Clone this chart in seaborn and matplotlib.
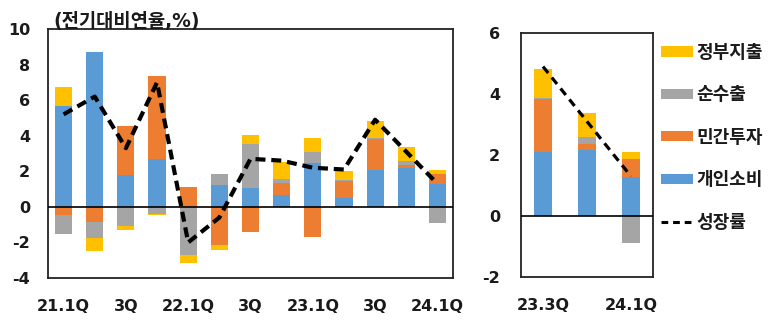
import numpy as np
import matplotlib
matplotlib.use("Agg")
import matplotlib.pyplot as plt
import seaborn as sns
from matplotlib.patches import Patch
from matplotlib.lines import Line2D

# Contributions to quarterly growth (annualised q/q, %p) by expenditure component
quarters = ["21.1Q", "21.2Q", "21.3Q", "21.4Q", "22.1Q", "22.2Q", "22.3Q",
            "22.4Q", "23.1Q", "23.2Q", "23.3Q", "23.4Q", "24.1Q"]
tick_labels = ["21.1Q", "3Q", "22.1Q", "3Q", "23.1Q", "3Q", "24.1Q"]

consumption = [5.69, 8.71, 1.81, 2.70, 0.00, 1.25, 1.07, 0.69, 2.47, 0.50, 2.10, 2.17, 1.27]
investment = [-0.47, -0.86, 2.76, 4.64, 1.10, -2.16, -1.43, 0.66, -1.69, 0.94, 1.73, 0.18, 0.60]
net_exports = [-1.05, -0.88, -1.05, -0.39, -2.68, 0.60, 2.49, 0.24, 0.60, 0.05, 0.03, 0.25, -0.90]
government = [1.05, -0.77, -0.26, -0.06, -0.47, -0.28, 0.50, 0.92, 0.81, 0.55, 0.96, 0.77, 0.23]
growth = [5.2, 6.2, 3.3, 7.0, -2.0, -0.6, 2.7, 2.6, 2.2, 2.1, 4.9, 3.1, 1.3]

# Zoomed panel: the three most recent quarters
recent_n = 3
recent_tick_labels = ["23.3Q", "", "24.1Q"]

layer_names = ["개인소비", "민간투자", "순수출", "정부지출"]
layer_colors = ["#5B9BD5", "#ED7D31", "#A5A5A5", "#FFC000"]
growth_name = "성장률"
unit_label = "(전기대비연율,%)"

sns.set_style("white")
plt.rcParams["font.family"] = ["DejaVu Sans", "Noto Sans CJK KR"]
plt.rcParams["font.weight"] = "bold"

TEXT = "#1a1a1a"

fig = plt.figure(figsize=(7.76, 3.21), dpi=100)
ax_l = fig.add_axes([48 / 776, 1 - 278 / 321, 405 / 776, 249 / 321])
ax_r = fig.add_axes([521 / 776, 1 - 277 / 321, 132 / 776, 244 / 321])


def draw_stack(ax, cats, layers, width):
    arr = np.array(layers, dtype=float)
    pos = np.cumsum(np.clip(arr, 0, None), axis=0)
    neg = np.cumsum(np.clip(arr, None, 0), axis=0)
    # outer layers first, inner layers painted over them
    for k in range(arr.shape[0] - 1, -1, -1):
        for cum in (pos[k], neg[k]):
            sns.barplot(x=list(cats), y=cum, order=list(cats), color=layer_colors[k],
                        width=width, saturation=1, errorbar=None, linewidth=0, ax=ax)


def draw_growth(ax, values, lw, dashes):
    sns.lineplot(x=np.arange(len(values)), y=values, color="black", lw=lw, ax=ax)
    ax.lines[-1].set_dashes(dashes)
    ax.lines[-1].set_dash_capstyle("butt")


def style_axes(ax, ylim, yticks, xticks, xlabels, ypad, xpad):
    ax.set_ylim(*ylim)
    ax.set_yticks(yticks)
    ax.set_yticklabels([f"{t:g}" for t in yticks])
    ax.set_xticks(xticks)
    ax.set_xticklabels(xlabels)
    ax.set_xlabel("")
    ax.set_ylabel("")
    ax.axhline(0, color="black", lw=1.2, zorder=3)
    ax.tick_params(axis="both", length=0, labelsize=11.5, colors=TEXT)
    ax.tick_params(axis="y", pad=ypad)
    ax.tick_params(axis="x", pad=xpad)
    for s in ax.spines.values():
        s.set_visible(True)
        s.set_color("#222222")
        s.set_linewidth(1.3)
    for lab in ax.get_xticklabels() + ax.get_yticklabels():
        lab.set_fontweight("bold")


# Left panel: full history
layers_all = [consumption, investment, net_exports, government]
draw_stack(ax_l, quarters, layers_all, 0.55)
draw_growth(ax_l, growth, 3.0, (2.4, 1.4))
ax_l.set_xlim(-0.5, len(quarters) - 0.5)
style_axes(ax_l, (-4, 10), list(range(-4, 11, 2)),
           list(range(0, len(quarters), 2)), tick_labels, 13, 15)

# Right panel: recent quarters
recent_cats = quarters[-recent_n:]
layers_recent = [l[-recent_n:] for l in layers_all]
draw_stack(ax_r, recent_cats, layers_recent, 0.4)
draw_growth(ax_r, growth[-recent_n:], 2.3, (2.6, 1.8))
ax_r.set_xlim(-0.5, recent_n - 0.5)
style_axes(ax_r, (-2, 6), list(range(-2, 7, 2)),
           list(range(recent_n)), recent_tick_labels, 15, 15)

fig.text(53 / 776, 1 - 21 / 321, unit_label, fontsize=13.5, fontweight="bold",
         color=TEXT, va="center", ha="left")

handles = [Patch(facecolor=layer_colors[k], edgecolor="none") for k in (3, 2, 1, 0)]
handles.append(Line2D([0], [0], color="black", lw=2.2, dashes=(2.2, 1.6)))
labels = [layer_names[k] for k in (3, 2, 1, 0)] + [growth_name]
leg = fig.legend(handles, labels, loc="upper left", bbox_to_anchor=(661 / 776, 1 - 44 / 321),
                 frameon=False, fontsize=13, handlelength=1.75, handleheight=0.5,
                 handletextpad=0.2, labelspacing=1.35, borderpad=0, borderaxespad=0)
for t in leg.get_texts():
    t.set_fontweight("bold")
    t.set_color(TEXT)

fig.savefig("out.png", dpi=100)
